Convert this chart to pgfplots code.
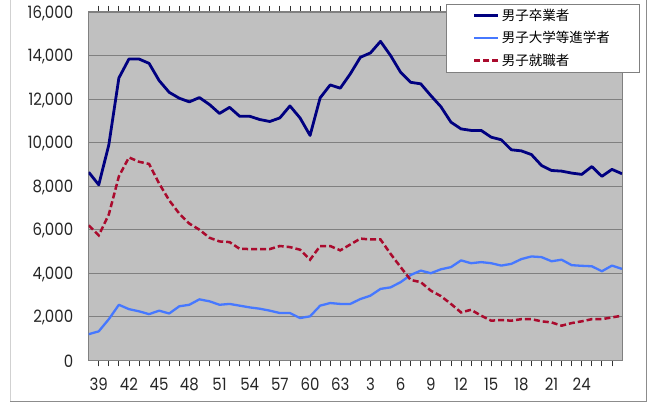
\documentclass[border=0pt]{standalone}
\usepackage{fontspec}
\usepackage{pgfplots}
\pgfplotsset{compat=1.18}
\newfontfamily\tickfont[FakeStretch=0.88]{Poppins}
\newfontfamily\cjk{Noto Sans CJK JP}
\definecolor{bgGray}{RGB}{192,192,192}
\definecolor{gridGray}{RGB}{128,128,128}
\definecolor{navyS}{RGB}{0,0,128}
\definecolor{blueS}{RGB}{70,120,255}
\definecolor{redS}{RGB}{170,10,45}
\begin{document}
\begin{tikzpicture}
\useasboundingbox (0pt,0pt) rectangle (651pt,412pt);
\fill[white] (0pt,0pt) rectangle (651pt,412pt);
\draw[black!18, line width=1pt] (10pt,413pt) -- (10pt,10pt);
\draw[black!45, line width=1pt] (10pt,10pt) -- (646pt,10pt) -- (646pt,413pt);
\begin{axis}[
  at={(88.7pt,51.7pt)}, anchor=south west,
  scale only axis, width=533.3pt, height=348.3pt,
  xmin=0, xmax=53, ymin=0, ymax=16000,
  scaled y ticks=false, scaled x ticks=false,
  axis background/.style={fill=bgGray},
  axis line style={gridGray, line width=1pt},
  ytick={0,2000,4000,6000,8000,10000,12000,14000,16000},
  yticklabels={0,{2,000},{4,000},{6,000},{8,000},{10,000},{12,000},{14,000},{16,000}},
  ymajorgrids, grid style={gridGray, line width=1.1pt},
  ytick style={draw=none},
  xtick={1,4,...,49},
  xticklabels={39,42,45,48,51,54,57,60,63,3,6,9,12,15,18,21,24},
  minor xtick={1,...,52},
  tick align=outside,
  major tick length=6pt, minor tick length=6pt,
  xtick style={black!80, line width=0.8pt},
  minor x tick style={black!80, line width=0.8pt},
  yticklabel style={font=\tickfont\fontsize{17}{17}\selectfont, text=black!85, xshift=-6pt, yshift=-1pt},
  xticklabel style={font=\tickfont\fontsize{17}{17}\selectfont, text=black!85, yshift=-8pt},
  legend style={at={(1.0319,1.023)}, anchor=north east, draw=gridGray, fill=white,
    font=\cjk\fontsize{13.5}{13.5}\selectfont, inner xsep=27pt, inner ysep=3pt,
    row sep=5.5pt, cells={anchor=west}},
  legend image code/.code={\draw[#1] (0pt,0pt) -- (24pt,0pt);},
]
\addplot[navyS, line width=2.8pt, line join=round] coordinates {
(0,8640) (1,8060) (2,9900) (3,12970) (4,13840) (5,13840) (6,13640) (7,12850) (8,12310) (9,12040)
(10,11870) (11,12070) (12,11750) (13,11340) (14,11620) (15,11210) (16,11210) (17,11060) (18,10970) (19,11135)
(20,11685) (21,11135) (22,10330) (23,12055) (24,12650) (25,12500) (26,13160) (27,13920) (28,14120) (29,14650)
(30,14000) (31,13230) (32,12770) (33,12700) (34,12160) (35,11650) (36,10940) (37,10630) (38,10560) (39,10560)
(40,10250) (41,10130) (42,9670) (43,9620) (44,9450) (45,8950) (46,8720) (47,8690) (48,8600) (49,8540)
(50,8900) (51,8450) (52,8770) (53,8570)};
\addlegendentry{男子卒業者}
\addplot[blueS, line width=2.3pt, line join=round] coordinates {
(0,1200) (1,1330) (2,1890) (3,2550) (4,2350) (5,2250) (6,2120) (7,2280) (8,2150) (9,2480)
(10,2550) (11,2800) (12,2710) (13,2550) (14,2590) (15,2510) (16,2430) (17,2370) (18,2280) (19,2170)
(20,2170) (21,1940) (22,2020) (23,2510) (24,2630) (25,2590) (26,2590) (27,2815) (28,2970) (29,3280)
(30,3350) (31,3590) (32,3920) (33,4120) (34,4000) (35,4180) (36,4280) (37,4590) (38,4460) (39,4510)
(40,4460) (41,4350) (42,4430) (43,4650) (44,4770) (45,4740) (46,4550) (47,4620) (48,4370) (49,4340)
(50,4320) (51,4090) (52,4350) (53,4200)};
\addlegendentry{男子大学等進学者}
\addplot[redS, line width=2.5pt, dash pattern=on 6pt off 3pt] coordinates {
(0,6200) (1,5740) (2,6700) (3,8450) (4,9320) (5,9120) (6,9020) (7,8120) (8,7350) (9,6740)
(10,6280) (11,6000) (12,5630) (13,5460) (14,5430) (15,5120) (16,5110) (17,5110) (18,5110) (19,5250)
(20,5200) (21,5080) (22,4620) (23,5250) (24,5250) (25,5050) (26,5320) (27,5590) (28,5550) (29,5550)
(30,4890) (31,4280) (32,3690) (33,3590) (34,3200) (35,2950) (36,2590) (37,2200) (38,2320) (39,2050)
(40,1820) (41,1850) (42,1820) (43,1890) (44,1890) (45,1790) (46,1740) (47,1590) (48,1710) (49,1790)
(50,1890) (51,1890) (52,1970) (53,2050)};
\addlegendentry{男子就職者}
\end{axis}
\end{tikzpicture}
\end{document}
